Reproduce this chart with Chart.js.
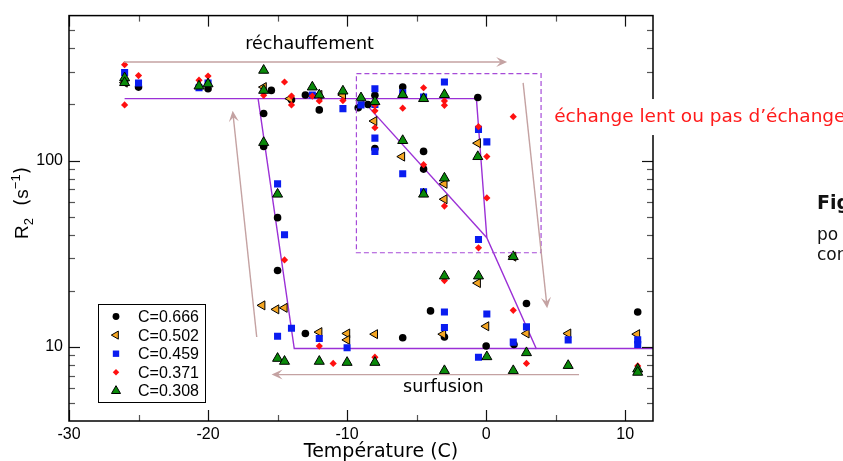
<!DOCTYPE html>
<html lang="fr">
<head>
<meta charset="UTF-8">
<title>R2 en fonction de la température</title>
<script src="https://cdn.jsdelivr.net/npm/chart.js"></script>
<style>
  body { margin: 0; background: #fff; }
  #wrap { width: 843px; height: 461px; }
</style>
</head>
<body>
<div id="wrap"><canvas id="myChart" width="843" height="461"></canvas></div>
<script>
  // [température (C), R2 (s-1)]
  const c666 = [[-26,265],[-25,248],[-20,243],[-16,179],[-16,119],[-15.45,238],[-14,212],[-13,225],[-12,187],[-9.2,192],[-8.5,200],[-8,224],[-8,116],[-6,248],[-4.5,112],[-4.5,90],[-0.6,218],[-15,49.4],[-15,25.7],[-13,11.8],[-6,11.2],[-4,15.6],[-3,11.3],[0,10.1],[2,10.3],[2.9,17.1],[10.9,15.4]];
  const c502 = [[-26,262],[-16,248],[-14.1,215],[-12,225],[-10.3,225],[-8.05,163],[-6.05,105],[-3,75],[-3,62],[-0.6,124],[1.95,30.5],[-16.1,16.7],[-15.1,15.9],[-14.5,16.2],[-12,12.0],[-10,11.8],[-10,10.9],[-8,11.7],[-3.1,11.7],[-0.6,22],[0,12.9],[2.9,11.8],[5.9,11.8],[10.85,11.7]];
  const c459 = [[-26,297],[-25,261],[-20.65,246],[-20,261],[-12.5,225],[-10.3,190],[-9,199],[-8,243],[-8,200],[-8,132],[-8,112],[-6,231],[-6,85],[-4.5,219],[-4.5,68],[-3,264],[-0.55,147],[0.05,126],[-0.55,37.7],[-15,75],[-14.5,40],[-14,12.6],[-15,11.4],[-12,11.1],[-10,9.9],[-3,15.4],[-3,12.7],[0.05,15],[-0.55,8.8],[1.95,10.6],[2.9,12.8],[5.9,10.9],[10.9,10.9],[10.9,10.3]];
  const c371 = [[-26,327],[-26,199],[-25,286],[-20.65,270],[-20,284],[-16,224],[-14.5,264],[-14,222],[-14,199],[-12.5,222],[-12,209],[-10.3,210],[-8,199],[-8,185],[-8,150],[-6,191],[-4.5,246],[-4.5,95],[-3,209],[-3,198],[-3,57],[-0.55,152],[0.05,105],[0.05,63],[1.95,172],[-0.55,34],[-14.5,29.3],[-12,10.1],[-11,8.15],[-8,8.8],[-3,22.7],[1.95,15.7],[2.9,8.15],[5.9,8.0],[10.9,7.9]];
  const c308 = [[-26,278],[-26,262],[-20.65,251],[-20,258],[-16,305],[-16,238],[-16,125],[-15,66],[-12.5,248],[-12,225],[-10.3,236],[-9,217],[-8,207],[-6,226],[-6,128],[-4.5,215],[-4.5,66],[-3,226],[-3,80.5],[-0.6,105],[1.95,30.5],[-3,24],[-0.55,24],[-15,8.67],[-14.5,8.36],[-12,8.36],[-10,8.25],[-8,8.25],[-3,7.45],[0.05,8.85],[1.95,7.45],[2.9,9.3],[5.9,7.94],[10.9,7.6],[10.9,7.3]];

  // courbes guides (violet)
  const guideHeat = [[-26,215],[-0.7,215],[0.05,38.5],[3.6,9.8],[12,9.8]];
  const guideSlow = [[-9,215],[0.05,38.5]];
  const guideCool = [[-16.4,215],[-13.8,9.8],[3.6,9.8]];

  const xTicks = [-30, -20, -10, 0, 10];
  const xMinor = [-25, -15, -5, 5];
  const yTicks = [10, 100];
  const yMinor = [5, 6, 7, 8, 9, 20, 30, 40, 50, 60, 70, 80, 90, 200, 300, 400, 500];

  const purple = '#9b30d6';
  const brown = '#c4a2a2';

  const series = [
    { label: 'C=0.666', data: c666, style: 'circle', r: 3.8, rot: 0, fill: '#000', border: '#000', bw: 0, order: 4 },
    { label: 'C=0.502', data: c502, style: 'triangle', r: 5.2, rot: -90, fill: '#f5a623', border: '#000', bw: 1, order: 3 },
    { label: 'C=0.459', data: c459, style: 'rect', r: 5, rot: 0, fill: '#0a1cf0', border: '#0a1cf0', bw: 0, order: 2 },
    { label: 'C=0.371', data: c371, style: 'rectRot', r: 3.6, rot: 0, fill: '#ff1010', border: '#ff1010', bw: 0, order: 1 },
    { label: 'C=0.308', data: c308, style: 'triangle', r: 5.8, rot: 0, fill: '#0a8a0a', border: '#000', bw: 1, order: 0 }
  ];

  const datasets = series.map(s => ({
    label: s.label,
    data: s.data,
    showLine: false,
    pointStyle: s.style,
    pointRadius: s.r,
    pointRotation: s.rot,
    pointBackgroundColor: s.fill,
    pointBorderColor: s.border,
    pointBorderWidth: s.bw,
    order: s.order
  }));
  [guideHeat, guideSlow, guideCool].forEach(g => {
    datasets.push({ data: g, showLine: true, borderColor: purple, borderWidth: 1.4, pointRadius: 0, fill: false, order: 10 });
  });

  function arrow(ctx, x1, y1, x2, y2) {
    const a = Math.atan2(y2 - y1, x2 - x1);
    ctx.beginPath();
    ctx.moveTo(x1, y1);
    ctx.lineTo(x2 - Math.cos(a) * 6, y2 - Math.sin(a) * 6);
    ctx.stroke();
    ctx.save();
    ctx.translate(x2, y2);
    ctx.rotate(a);
    ctx.beginPath();
    ctx.moveTo(0, 0);
    ctx.lineTo(-11, -5);
    ctx.lineTo(-6.5, 0);
    ctx.lineTo(-11, 5);
    ctx.closePath();
    ctx.fill();
    ctx.restore();
  }

  const decor = {
    id: 'decor',
    afterDraw(chart) {
      const ctx = chart.ctx;
      const X = chart.scales.x, Y = chart.scales.y;
      const px = v => X.getPixelForValue(v), py = v => Y.getPixelForValue(v);
      const a = chart.chartArea;
      ctx.save();

      // ticks vers l'intérieur, sur les quatre côtés
      ctx.lineWidth = 1.2;
      const tick = (x1, y1, x2, y2) => { ctx.beginPath(); ctx.moveTo(x1, y1); ctx.lineTo(x2, y2); ctx.stroke(); };
      xTicks.concat(xMinor).forEach(v => {
        const major = xTicks.includes(v);
        const len = major ? 11 : 6;
        ctx.strokeStyle = major ? '#111' : '#555';
        const x = Math.round(px(v)) + 0.5;
        tick(x, a.bottom, x, a.bottom - len);
        tick(x, a.top, x, a.top + len);
      });
      yTicks.concat(yMinor).forEach(v => {
        const major = yTicks.includes(v);
        const len = major ? 11 : 6;
        ctx.strokeStyle = major ? '#111' : '#555';
        const y = Math.round(py(v)) + 0.5;
        tick(a.left, y, a.left + len, y);
        tick(a.right, y, a.right - len, y);
      });

      // cadre
      ctx.strokeStyle = '#000';
      ctx.lineWidth = 1.5;
      ctx.strokeRect(a.left, a.top, a.right - a.left, a.bottom - a.top);

      // zone d'échange lent (pointillés)
      ctx.strokeStyle = '#a64bd8';
      ctx.lineWidth = 1.2;
      ctx.setLineDash([5, 3]);
      ctx.strokeRect(px(-9.33), py(293), px(3.95) - px(-9.33), py(32) - py(293));
      ctx.setLineDash([]);

      // flèches
      ctx.strokeStyle = brown;
      ctx.fillStyle = brown;
      ctx.lineWidth = 1.4;
      arrow(ctx, px(-26.05), py(338), px(1.51), py(338));
      arrow(ctx, px(-16.5), py(11.3), px(-18.23), py(185));
      arrow(ctx, px(2.66), py(261), px(4.39), py(16.1));
      arrow(ctx, px(6.68), py(7.1), px(-15.43), py(7.1));

      // textes
      ctx.fillStyle = '#000';
      ctx.textBaseline = 'alphabetic';
      ctx.font = '17.5px "DejaVu Sans"';
      ctx.textAlign = 'center';
      ctx.fillText('réchauffement', px(-12.7), py(395));
      ctx.fillText('surfusion', px(-3.08), py(5.69));
      ctx.font = '19px "DejaVu Sans"';
      ctx.fillText('Température (C)', 381, 457);

      // texte rouge sur fond blanc
      ctx.font = '18.5px "DejaVu Sans"';
      ctx.textAlign = 'left';
      const rx = px(4.89), ry = py(161);
      const rw = ctx.measureText("échange lent ou pas d’échange").width;
      ctx.fillStyle = '#fff';
      ctx.fillRect(rx - 5, ry - 23, rw + 10, 36);
      ctx.fillStyle = '#ff1a1a';
      ctx.fillText("échange lent ou pas d’échange", rx, ry);

      // texte de la page voisine, coupé
      ctx.fillStyle = '#111';
      ctx.font = 'bold 19px "DejaVu Sans"';
      ctx.fillText('Fig', 817, 209);
      ctx.font = '17px "DejaVu Sans"';
      ctx.fillText('po', 817, 240);
      ctx.fillText('cor', 817, 260);

      // titre de l'axe y : R2 (s-1)
      ctx.save();
      ctx.translate(28, 203);
      ctx.rotate(-Math.PI / 2);
      ctx.fillStyle = '#000';
      const parts = [
        ['R', '19px "Liberation Sans"', 0],
        ['2', '13px "Liberation Sans"', 5],
        ['  (', '19px "DejaVu Sans"', 0],
        ['s', '19px "Liberation Sans"', 0],
        ['−1', '13px "Liberation Sans"', -8],
        [')', '19px "DejaVu Sans"', 0]
      ];
      let total = 0;
      parts.forEach(p => { ctx.font = p[1]; total += ctx.measureText(p[0]).width; });
      let cx = -total / 2;
      parts.forEach(p => {
        ctx.font = p[1];
        ctx.fillText(p[0], cx, p[2]);
        cx += ctx.measureText(p[0]).width;
      });
      ctx.restore();

      // légende
      ctx.fillStyle = '#fff';
      ctx.fillRect(98, 304, 107, 98);
      ctx.strokeStyle = '#000';
      ctx.lineWidth = 1;
      ctx.strokeRect(98.5, 304.5, 107, 98);
      ctx.font = '16px "Liberation Sans"';
      ctx.textBaseline = 'middle';
      series.forEach((s, i) => {
        const y = 316.5 + i * 18.6;
        ctx.fillStyle = s.fill;
        ctx.strokeStyle = s.border;
        ctx.lineWidth = s.bw;
        Chart.helpers.drawPoint(ctx, { pointStyle: s.style, radius: s.r * 0.9, rotation: s.rot, borderWidth: s.bw }, 116, y);
        ctx.fillStyle = '#000';
        ctx.fillText(s.label, 138, y + 1);
      });
      ctx.restore();
    }
  };

  Chart.defaults.font.family = '"Liberation Sans", Arial, sans-serif';
  Chart.defaults.font.size = 16;
  Chart.defaults.color = '#000';

  new Chart(document.getElementById('myChart'), {
    type: 'scatter',
    data: { datasets: datasets },
    options: {
      responsive: false,
      animation: false,
      layout: { padding: { left: 0, top: 12, right: 190, bottom: 0 } },
      plugins: { legend: { display: false }, tooltip: { enabled: false } },
      scales: {
        x: {
          type: 'linear',
          min: -30,
          max: 12,
          grid: { display: false, drawTicks: false },
          border: { display: false },
          ticks: { padding: 4, callback: v => String(v) },
          afterBuildTicks: s => { s.ticks = xTicks.map(v => ({ value: v })); },
          afterFit: s => { s.height = 40; }
        },
        y: {
          type: 'logarithmic',
          min: 4,
          max: 600,
          grid: { display: false, drawTicks: false },
          border: { display: false },
          ticks: { padding: 6, callback: v => String(v) },
          afterBuildTicks: s => { s.ticks = yTicks.map(v => ({ value: v })); },
          afterFit: s => { s.width = 69; }
        }
      }
    },
    plugins: [decor]
  });
</script>
</body>
</html>
